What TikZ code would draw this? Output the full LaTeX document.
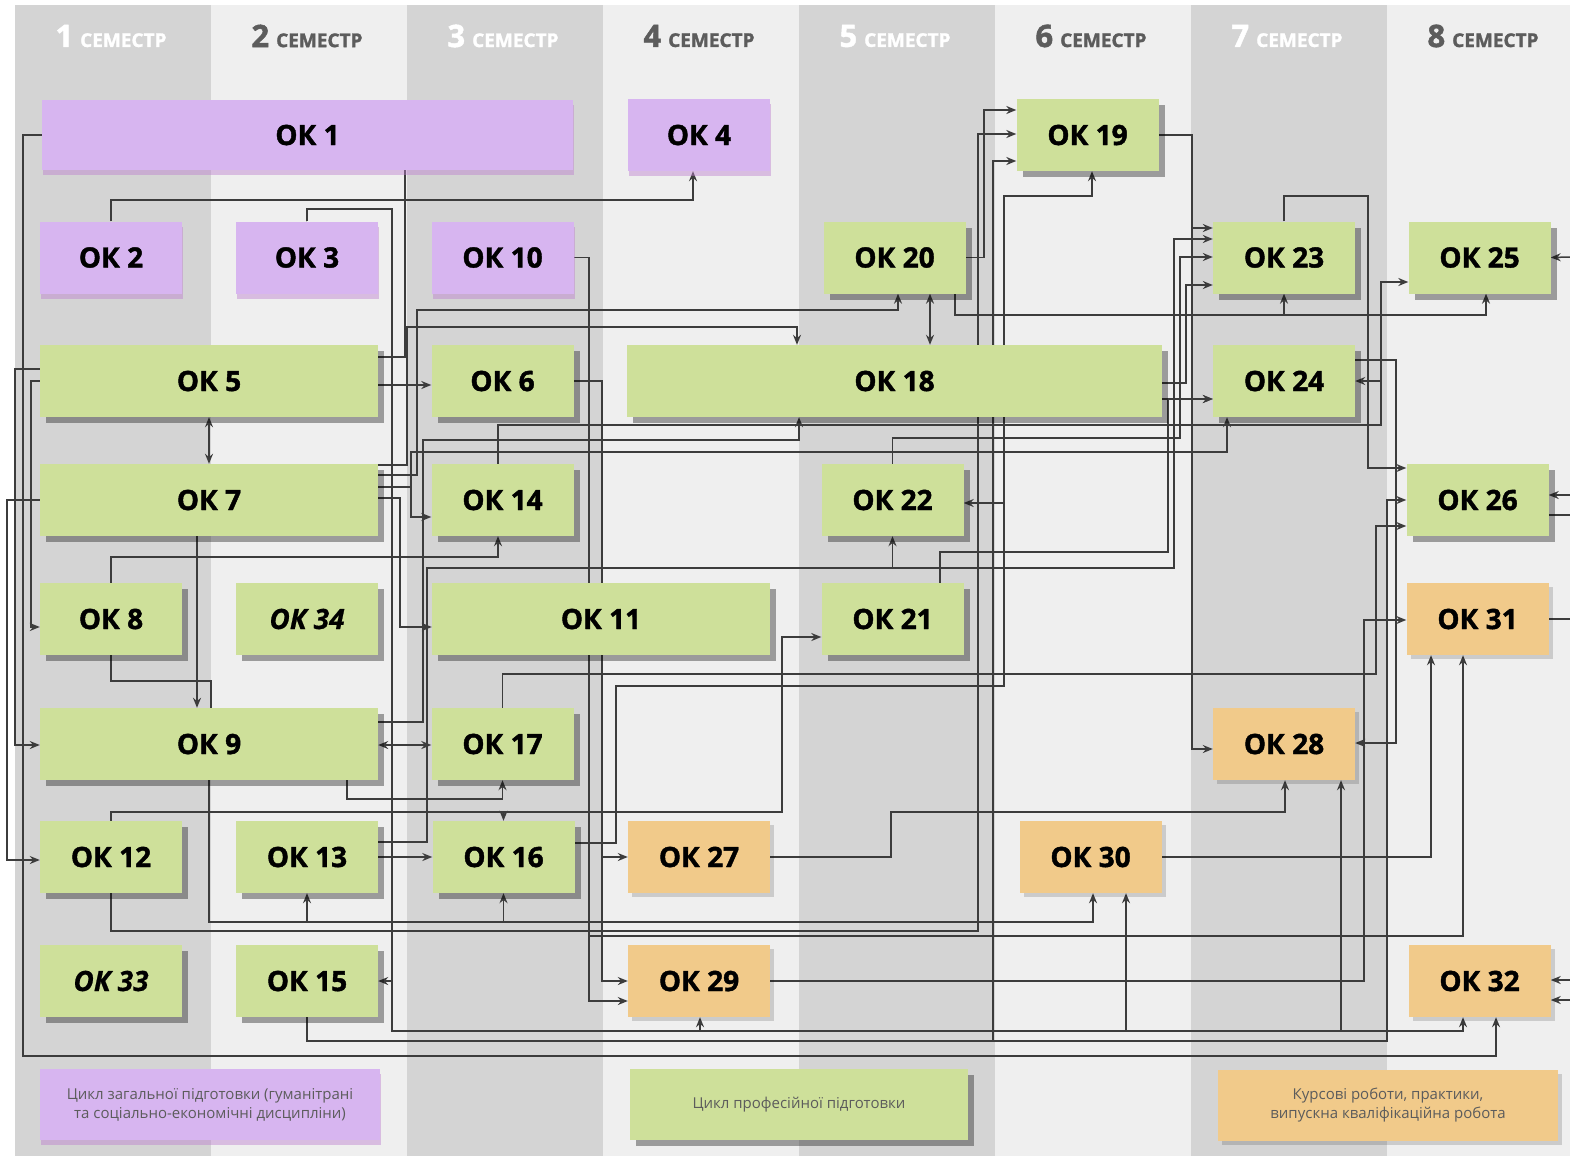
\documentclass[tikz,border=0pt]{standalone}
\usepackage{fontspec}
\setmainfont{Open Sans}
\newfontfamily\heavy{Open Sans}[BoldFeatures={FakeBold=1.5},BoldItalicFeatures={FakeBold=0.6}]
\usetikzlibrary{arrows.meta,shadows}
\definecolor{colA}{HTML}{D4D4D4}
\definecolor{colB}{HTML}{EFEFEF}
\definecolor{lil}{HTML}{D7B5F0}
\definecolor{grn}{HTML}{CEE09A}
\definecolor{org}{HTML}{F1CA8A}
\definecolor{wirec}{HTML}{3C3C3C}
\definecolor{hdr}{HTML}{5C5C5C}
\pgfdeclarelayer{bg}
\pgfdeclarelayer{wires}
\pgfsetlayers{bg,wires,main}
\begin{document}
\begin{tikzpicture}[x=1pt,y=-1pt,
  box/.style={minimum width=142pt,minimum height=72pt,inner sep=0pt,font=\heavy\fontsize{28}{30}\selectfont\bfseries},
  lilbox/.style={box,fill=lil,drop shadow={shadow xshift=1pt,shadow yshift=-5pt,opacity=.45,fill=lil!70!violet}},
  grnbox/.style={box,fill=grn,drop shadow={shadow xshift=6pt,shadow yshift=-6pt,opacity=.35,fill=black}},
  orgbox/.style={box,fill=org,drop shadow={shadow xshift=4pt,shadow yshift=-4pt,opacity=.15,fill=black}},
  ital/.style={font=\heavy\fontsize{28}{30}\selectfont\bfseries\itshape},
  legend/.style={minimum width=340pt,minimum height=71pt,align=center,text=hdr,font=\fontsize{15}{19}\selectfont},
  wire/.style={draw=wirec,line width=1.5pt},
  arr/.style={wire,-{Stealth[length=10pt,width=8pt]}},
  dbl/.style={wire,{Stealth[length=10pt,width=8pt]}-{Stealth[length=10pt,width=8pt]}}]
\useasboundingbox (0,0) rectangle (1570,1156);
\begin{pgfonlayer}{bg}
\fill[white] (0,0) rectangle (1570,1156);
\foreach \i/\colf/\colt in {1/colA/white,2/colB/hdr,3/colA/white,4/colB/hdr,5/colA/white,6/colB/hdr,7/colA/white,8/colB/hdr}{
  \fill[\colf] (15+196*\i-196,5) rectangle ++(196,1151);
  \node[text=\colt,font=\heavy\bfseries] (s\i) at (111+196*\i-196,36) {{\fontsize{31}{31}\selectfont\i}\hspace{7pt}{\fontsize{19}{19}\selectfont СЕМЕСТР}};
}
\end{pgfonlayer}

\node[lilbox,minimum width=531pt,minimum height=70pt] (ok1) at (307.5,135) {ОК 1};
\node[lilbox] (ok4) at (699,135) {ОК 4};
\node[grnbox] (ok19) at (1087.5,135) {ОК 19};
\node[lilbox] (ok2) at (111,257.5) {ОК 2};
\node[lilbox] (ok3) at (307,257.5) {ОК 3};
\node[lilbox] (ok10) at (502.5,257.5) {ОК 10};
\node[grnbox] (ok20) at (894.5,257.5) {ОК 20};
\node[grnbox] (ok23) at (1284,257.5) {ОК 23};
\node[grnbox] (ok25) at (1479.5,257.5) {ОК 25};
\node[grnbox,minimum width=338pt] (ok5) at (209,381) {ОК 5};
\node[grnbox] (ok6) at (502.5,381) {ОК 6};
\node[grnbox,minimum width=535pt] (ok18) at (894.5,381) {ОК 18};
\node[grnbox] (ok24) at (1284,381) {ОК 24};
\node[grnbox,minimum width=338pt] (ok7) at (209,500) {ОК 7};
\node[grnbox] (ok14) at (502.5,500) {ОК 14};
\node[grnbox] (ok22) at (892.5,500) {ОК 22};
\node[grnbox] (ok26) at (1477.5,500) {ОК 26};
\node[grnbox] (ok8) at (111,619) {ОК 8};
\node[grnbox,ital] (ok34) at (307,619) {ОК 34};
\node[grnbox,minimum width=338pt] (ok11) at (601,619) {ОК 11};
\node[grnbox] (ok21) at (892.5,619) {ОК 21};
\node[orgbox] (ok31) at (1477.5,619) {ОК 31};
\node[grnbox,minimum width=338pt] (ok9) at (209,744) {ОК 9};
\node[grnbox] (ok17) at (502.5,744) {ОК 17};
\node[orgbox] (ok28) at (1284,744) {ОК 28};
\node[grnbox] (ok12) at (111,857) {ОК 12};
\node[grnbox] (ok13) at (307,857) {ОК 13};
\node[grnbox] (ok16) at (503.5,857) {ОК 16};
\node[orgbox] (ok27) at (699,857) {ОК 27};
\node[orgbox] (ok30) at (1090.5,857) {ОК 30};
\node[grnbox,ital] (ok33) at (111,981) {ОК 33};
\node[grnbox] (ok15) at (307,981) {ОК 15};
\node[orgbox] (ok29) at (699,981) {ОК 29};
\node[orgbox] (ok32) at (1479.5,981) {ОК 32};
\node[lilbox,legend] (leg1) at (210,1104.5) {Цикл загальної підготовки (гуманітрані\\та соціально-економічні дисципліни)};
\node[grnbox,legend,minimum width=338pt] (leg2) at (799,1104.5) {Цикл професійної підготовки};
\node[orgbox,legend] (leg3) at (1388,1105.5) {Курсові роботи, практики,\\випускна кваліфікаційна робота};

\coordinate (e25) at (1570,257);
\coordinate (e26a) at (1570,495);
\coordinate (e26b) at (1570,515);
\coordinate (e31) at (1570,619);
\coordinate (e32a) at (1570,980);
\coordinate (e32b) at (1570,1000);

\begin{pgfonlayer}{wires}
\draw[arr] (ok1.west) -| (23,1056) -| (ok32.south -| 1496,0);
\draw[wire] (ok1.south -| 405,0) |- (ok5.east |- 0,357);
\draw[arr] (ok2.north) |- (693,200) -- (ok4.south -| 693,0);
\draw[arr] (ok3.north) |- (392,209) |- (ok15.east |- 0,981);
\draw[arr] (ok3.north) |- (392,209) |- (700,1031) -- (ok29.south -| 700,0);
\draw[arr] (ok3.north) |- (392,209) |- (1126,1031) -- (ok30.south -| 1126,0);
\draw[arr] (ok3.north) |- (392,209) |- (1341,1031) -- (ok28.south -| 1341,0);
\draw[arr] (ok3.north) |- (392,209) |- (1463,1031) -- (ok32.south -| 1463,0);
\draw[arr] (ok5.east |- 0,385) -- (ok6.west |- 0,385);
\draw[dbl] (ok5.south) -- (ok7.north);
\draw[arr] (ok5.west |- 0,369) -| (15,745) -- (ok9.west |- 0,745);
\draw[arr] (ok5.west |- 0,381) -| (31,627) -- (ok8.west |- 0,627);
\draw[arr] (ok6.east) -| (602,981) -- (ok29.west |- 0,981);
\draw[arr] (ok6.east) -| (602,857) -- (ok27.west);
\draw[arr] (ok7.west) -| (7,860) -- (ok12.west |- 0,860);
\draw[arr] (ok7.south -| 197,0) -- (ok9.north -| 197,0);
\draw[arr] (ok7.east |- 0,465) -| (407,327) -| (ok18.north -| 797,0);
\draw[arr] (ok7.east |- 0,475) -| (417,310) -| (ok20.south -| 898,0);
\draw[arr] (ok7.east |- 0,487) -| (411,517) -- (ok14.west |- 0,517);
\draw[arr] (ok7.east |- 0,487) -| (411,452) -| (ok24.south -| 1227,0);
\draw[arr] (ok7.east |- 0,498) -| (400,627) -- (ok11.west |- 0,627);
\draw[arr] (ok8.north) |- (498,557) -- (ok14.south -| 498,0);
\draw[wire] (ok8.south) |- (211,681) -- (ok9.north -| 211,0);
\draw[dbl] (ok9.east |- 0,745) -- (ok17.west |- 0,745);
\draw[arr] (ok9.south -| 347,0) |- (ok17.south |- 0,799) -- (ok17.south);
\draw[arr] (ok9.east |- 0,722) -| (423,440) -| (ok18.south -| 799,0);
\draw[arr] (ok9.south) |- (ok13.south |- 0,922) -- (ok13.south);
\draw[arr] (ok9.south) |- (ok16.south |- 0,922) -- (ok16.south);
\draw[arr] (ok9.south) |- (1093,922) -- (ok30.south -| 1093,0);
\draw[arr] (ok10.east) -| (589,1001) -- (ok29.west |- 0,1001);
\draw[arr] (ok10.east) -| (589,936) -| (ok31.south -| 1463,0);
\draw[arr] (ok12.north) |- (ok16.north |- 0,812) -- (ok16.north);
\draw[arr] (ok12.north) |- (782,812) |- (ok21.west |- 0,637);
\draw[arr] (ok12.south) |- (978,931) |- (ok19.west |- 0,134);
\draw[arr] (ok13.east |- 0,857) -- (ok16.west |- 0,857);
\draw[arr] (ok13.east |- 0,842) -| (427,568) -| (ok22.south);
\draw[arr] (ok13.east |- 0,842) -| (427,568) -| (1174,239) -- (ok23.west |- 0,239);
\draw[arr] (ok14.north -| 498,0) |- (1381,425) |- (ok25.west |- 0,282);
\draw[arr] (ok14.north -| 498,0) |- (1381,425) |- (ok24.east |- 0,381);
\draw[arr] (ok15.south) |- (1387,1041) |- (ok26.west |- 0,500);
\draw[arr] (ok15.south) |- (993,1041) |- (ok19.west |- 0,161);
\draw[arr] (ok16.east |- 0,843) -| (616,686) -| (1004,196) -| (ok19.south -| 1092,0);
\draw[arr] (ok16.east |- 0,843) -| (616,686) -| (1004,503) -- (ok22.east |- 0,503);
\draw[arr] (ok17.north) |- (1376,674) |- (ok26.west |- 0,526);
\draw[arr] (ok18.east |- 0,399) -- (ok24.west |- 0,399);
\draw[arr] (ok18.east |- 0,383) -| (1186,285) -- (ok23.west |- 0,285);
\draw[arr] (ok19.east) -| (1192,228) -- (ok23.west |- 0,228);
\draw[arr] (ok19.east) -| (1192,749) -- (ok28.west |- 0,749);
\draw[arr] (ok20.east) -| (984,110) -- (ok19.west |- 0,110);
\draw[dbl] (ok20.south -| 930,0) -- (ok18.north -| 930,0);
\draw[arr] (ok20.south -| 955,0) |- (ok23.south |- 0,315) -- (ok23.south);
\draw[arr] (ok20.south -| 955,0) |- (1486,315) -- (ok25.south -| 1486,0);
\draw[arr] (ok21.north -| 940,0) |- (1168,552) |- (ok24.west |- 0,399);
\draw[arr] (ok22.north) |- (1180,438) |- (ok23.west |- 0,257);
\draw[arr] (ok23.north) |- (1368,196) |- (ok26.west |- 0,468);
\draw[arr] (ok24.east |- 0,360) -| (1396,743) -- (ok28.east |- 0,743);
\draw[arr] (ok27.east) -| (891,812) -| (ok28.south -| 1285,0);
\draw[arr] (ok29.east) -| (1364,620) -- (ok31.west |- 0,620);
\draw[arr] (ok30.east) -| (ok31.south -| 1431,0);
\draw[wire] (ok31.east) -- (e31);
\draw[wire] (ok26.east |- 0,515) -- (e26b);
\draw[arr] (e26a) -- (ok26.east |- 0,495);
\draw[arr] (e25) -- (ok25.east);
\draw[arr] (e32a) -- (ok32.east |- 0,980);
\draw[arr] (e32b) -- (ok32.east |- 0,1000);
\end{pgfonlayer}
\end{tikzpicture}
\end{document}
